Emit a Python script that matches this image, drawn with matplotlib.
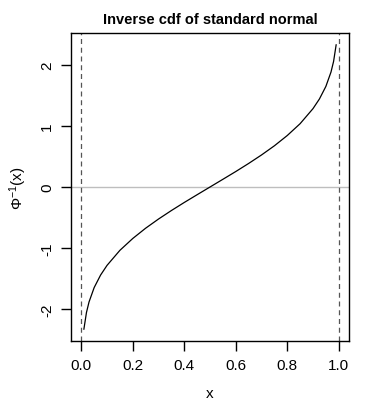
import matplotlib
matplotlib.use('Agg')
import matplotlib.pyplot as plt

plt.rcParams['font.family'] = ['Liberation Sans', 'DejaVu Sans']
plt.rcParams['mathtext.fontset'] = 'custom'
plt.rcParams['mathtext.rm'] = 'Liberation Sans'
plt.rcParams['mathtext.it'] = 'Liberation Sans'

# points
p = [0.01, 0.02, 0.03, 0.05, 0.075, 0.1, 0.15, 0.2, 0.25, 0.3, 0.35, 0.4, 0.45, 0.5,
     0.55, 0.6, 0.65, 0.7, 0.75, 0.8, 0.85, 0.9, 0.925, 0.95, 0.97, 0.98, 0.99]
q = [-2.326, -2.054, -1.881, -1.645, -1.440, -1.282, -1.036, -0.842, -0.674, -0.524,
     -0.385, -0.253, -0.126, 0.0, 0.126, 0.253, 0.385, 0.524, 0.674, 0.842, 1.036,
     1.282, 1.440, 1.645, 1.881, 2.054, 2.326]
xticks = [0.0, 0.2, 0.4, 0.6, 0.8, 1.0]
yticks = [-2, -1, 0, 1, 2]
vlines = [0, 1]

fig = plt.figure(figsize=(3.67, 4.14), dpi=100)
ax = fig.add_axes([0.1935, 0.1739, 0.7575, 0.744])

ax.axhline(0, color='#bebebe', lw=1)
for v in vlines:
    ax.axvline(v, color='#555555', lw=0.9, ls=(0, (4, 3)))
ax.plot(p, q, color='black', lw=0.9)

ax.set_xlim(-0.04, 1.04)
ax.set_ylim(-2.52, 2.52)
ax.set_xticks(xticks)
ax.set_xticklabels(['%.1f' % t for t in xticks])
ax.set_yticks(yticks)
ax.set_yticklabels([str(t) for t in yticks], rotation=90, va='center')
ax.tick_params(direction='out', length=7, width=1, labelsize=11, pad=5)
for s in ax.spines.values():
    s.set_linewidth(1)

ax.set_title('Inverse cdf of standard normal', fontsize=10.5, fontweight='bold', pad=7)
ax.set_xlabel('x', fontsize=11, labelpad=10)
ax.set_ylabel(r'$\mathrm{\Phi}^{-1}\mathrm{(x)}$', fontsize=11, labelpad=8)

fig.savefig('out.png', dpi=100)
